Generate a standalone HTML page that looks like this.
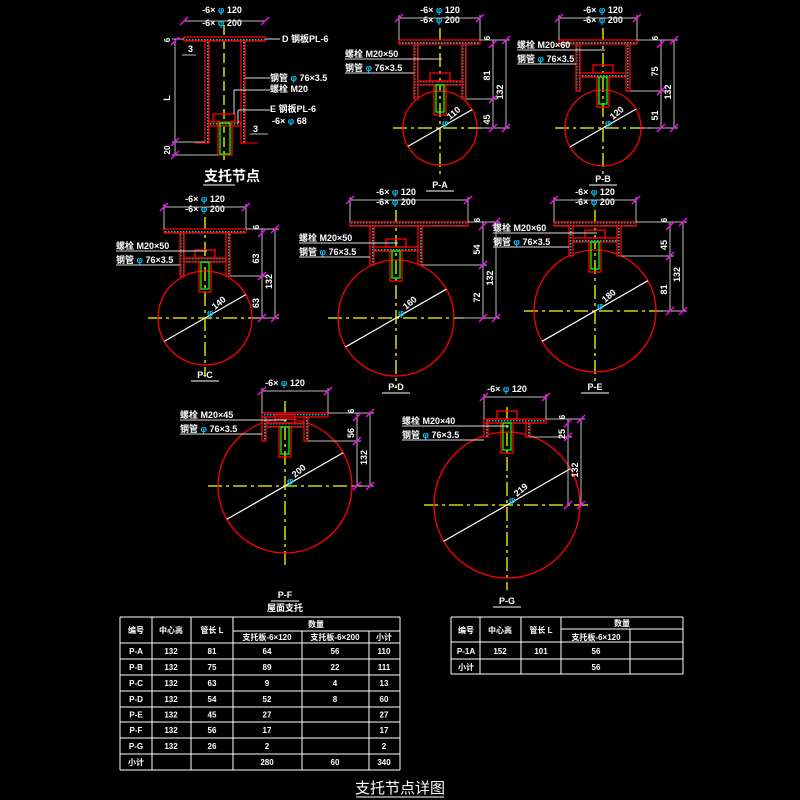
<!DOCTYPE html>
<html><head><meta charset="utf-8"><style>
html,body{margin:0;padding:0;background:#000;width:800px;height:800px;overflow:hidden}
svg{display:block}
text{font-family:"Liberation Sans","Noto Sans CJK SC",sans-serif;fill:#fff;font-weight:bold}
</style></head><body>
<svg id="s" width="800" height="800" viewBox="0 0 800 800" xmlns="http://www.w3.org/2000/svg">
<defs><pattern id="h" width="3" height="3" patternUnits="userSpaceOnUse"><rect width="3" height="3" fill="#000"/><rect width="1.5" height="1.5" fill="#0cc"/></pattern></defs>
<g id="g"></g>
</svg>
<script>
var o='';
function L(x1,y1,x2,y2,c,w,d){o+='<line x1="'+x1+'" y1="'+y1+'" x2="'+x2+'" y2="'+y2+'" stroke="'+(c||'#bbb')+'" stroke-width="'+(w||1)+'"'+(d?' stroke-dasharray="'+d+'"':'')+'/>';}
function R(x,y,w,h,c,f){o+='<rect x="'+x+'" y="'+y+'" width="'+w+'" height="'+h+'" stroke="'+c+'" stroke-width="1.3" fill="'+(f||'none')+'"/>';}
function T(x,y,s,sz,a,rot,col){o+='<text x="'+x+'" y="'+y+'" font-size="'+(sz||9)+'" text-anchor="'+(a||'start')+'"'+(rot?' transform="rotate('+rot+' '+x+' '+y+')"':'')+(col?' style="fill:'+col+'"':'')+'>'+s+'</text>';}
function tick(x,y){L(x-4,y+4,x+4,y-4,'#f0f',1.5);}
function phi(x,y){o+='<text x="'+x+'" y="'+y+'" font-size="9" style="fill:#0cf">φ</text>';}
function sup(p){
 var cx=p.cx,t=4;
 L(cx,p.py-12,cx,p.cy+p.r+12,'#ff0',1.3,'14,4,3,4');
 if(p.r){L(cx-p.r-10,p.cy,cx+p.r+10,p.cy,'#ff0',1.3,'14,4,3,4');
  o+='<circle cx="'+cx+'" cy="'+p.cy+'" r="'+p.r+'" stroke="#f00" stroke-width="1.3" fill="none"/>';
  var a=-0.52,dx=p.r*Math.cos(a),dy=p.r*Math.sin(a);L(cx-dx,p.cy-dy,cx+dx,p.cy+dy,'#fff',1.2);
  T(cx+10,p.cy-8,p.d,9,'start',-40);phi(cx+2,p.cy-2);}
 R(p.pl,p.py,p.pr-p.pl,t,'#f00','url(#h)');
 R(cx-p.pw,p.py+t,4,p.pb-p.py-t,'#f00','url(#h)');
 R(cx+p.pw-4,p.py+t,4,p.pb-p.py-t,'#f00','url(#h)');
 R(cx-p.pw+4,p.pb-18,p.pw*2-8,4,'#f00','url(#h)');
 R(cx-10,p.pb-26,20,8,'#f00');
 R(cx-6,p.pb-14,12,p.bl||30,'#f00');R(cx-4,p.pb-14,8,(p.bl||30)-3,'#0f0');
 if(p.lab){var lx=p.lab[0],ly=p.lab[1];T(lx,ly,p.lab[2],9);L(lx,ly+2,cx+2,ly+2,'#ddd');
  T(lx,ly+14,'钢管 <tspan style="fill:#0cf">φ</tspan> 76×3.5',9);L(lx,ly+16,cx-p.pw,ly+16,'#ddd');}
 if(p.top){var y=p.py-22;T(cx,y-5,'-6× <tspan style="fill:#0cf">φ</tspan> 120',9,'middle');
  if(p.top==2){T(cx,y+5,'-6× <tspan style="fill:#0cf">φ</tspan> 200',9,'middle');}
  L(p.pl,y,p.pr,y);L(p.pl,y-3,p.pl,p.py);L(p.pr,y-3,p.pr,p.py);tick(p.pl,y);tick(p.pr,y);}
 var x1=p.dx,x2=p.dx+13;
 L(p.pr,p.py,x2+4,p.py);L(cx+p.pw,p.pb,x1+4,p.pb);L(cx+p.r,p.cy,x2+4,p.cy);
 L(x1,p.py,x1,p.cy);L(x2,p.py,x2,p.cy);tick(x1,p.py+4);tick(x1,p.pb);tick(x1,p.cy);tick(x2,p.py);tick(x2,p.cy);
 T(x1-3,(p.py+p.pb)/2+6,p.d1,9,'middle',-90);T(x1-3,(p.pb+p.cy)/2+6,p.d2||'',9,'middle',-90);T(x2-3,(p.py+p.cy)/2+8,'132',9,'middle',-90);
 T(x1-3,p.py-2,'6',8,'middle',-90);
 T(cx,p.ly,p.name,9,'middle');L(cx-14,p.ly+3,cx+14,p.ly+3,'#fff');
}
sup({cx:440,cy:128,r:37,py:40,pl:399,pr:480,pw:26,pb:99,d:'110',d1:'81',d2:'45',dx:493,lab:[345,57,'螺栓 M20×50'],top:2,name:'P-A',ly:188});
sup({cx:603,cy:128,r:38,py:40,pl:559,pr:637,pw:27,pb:91,d:'120',d1:'75',d2:'51',dx:661,lab:[517,48,'螺栓 M20×60'],top:2,name:'P-B',ly:182});
sup({cx:205,cy:318,r:47,py:229,pl:164,pr:246,pw:25,pb:276,d:'140',d1:'63',d2:'63',dx:262,lab:[116,249,'螺栓 M20×50'],top:2,name:'P-C',ly:378});
sup({cx:396,cy:318,r:58,py:222,pl:350,pr:468,pw:26,pb:265,d:'160',d1:'54',d2:'72',dx:483,lab:[299,241,'螺栓 M20×50'],top:2,name:'P-D',ly:390});
sup({cx:595,cy:311,r:61,py:222,pl:554,pr:636,pw:26,pb:256,d:'180',d1:'45',d2:'81',dx:670,lab:[493,231,'螺栓 M20×60'],top:2,name:'P-E',ly:390});
sup({cx:285,cy:486,r:67,py:413,pl:262,pr:328,pw:23,pb:441,d:'200',d1:'56',d2:'',dx:357,lab:[180,418,'螺栓 M20×45'],top:1,name:'P-F',ly:598});
sup({cx:507,cy:505,r:73,py:419,pl:484,pr:546,pw:23,pb:437,d:'219',d1:'25',d2:'',dx:568,lab:[402,424,'螺栓 M20×40'],top:1,name:'P-G',ly:604});
T(285,611,'屋面支托',9,'middle');
L(224,25,224,160,'#ff0',1.3,'10,4');
R(184,37,81,4,'#f00','url(#h)');R(205,41,4,102,'#f00','url(#h)');R(241,41,4,102,'#f00','url(#h)');
R(209,122,32,4,'#f00','url(#h)');R(213,114,22,8,'#f00');R(218,122,14,33,'#f00');R(220,123,10,31,'#0f0');
L(195,143,205,143,'#f00');L(245,143,258,143,'#f00');
T(222,13,'-6× <tspan style="fill:#0cf">φ</tspan> 120',9,'middle');T(222,26,'-6× <tspan style="fill:#0cf">φ</tspan> 200',9,'middle');
L(184,21,265,21);tick(184,21);tick(265,21);
L(265,39,280,39,'#ddd');T(282,42,'D 钢板PL-6',9);
L(245,78,270,78,'#ddd');T(270,81,'钢管 <tspan style="fill:#0cf">φ</tspan> 76×3.5',9);
L(234,90,234,114,'#ddd');L(234,90,270,90,'#ddd');T(270,92,'螺栓 M20',9);
L(238,110,238,123,'#ddd');L(238,110,270,110,'#ddd');T(270,112,'E 钢板PL-6',9);T(272,124,'-6× <tspan style="fill:#0cf">φ</tspan> 68',9);
L(175,39,175,155);L(172,39,184,39);L(172,142,205,142);L(172,155,218,155);tick(175,41);tick(175,142);tick(175,155);
T(170,98,'L',9,'middle',-90);T(170,150,'20',8,'middle',-90);T(170,40,'6',8,'middle',-90);
T(188,52,'3',9);L(182,55,196,55);T(253,132,'3',9);L(250,134,268,134);
o+='<text x="232" y="181" font-size="14" text-anchor="middle">支托节点</text>';L(203,185,235,185,'#fff');
var Y=[617,643];for(var i=1;i<=8;i++)Y.push(Math.round(643+i*127/8));
Y.forEach(function(y){L(120,y,400,y,'#fff');});L(233,631,400,631,'#fff');
[120,152,191,233,400].forEach(function(x){L(x,617,x,770,'#fff');});[302,369].forEach(function(x){L(x,631,x,770,'#fff');});
T(136,633,'编号',8,'middle');T(171,633,'中心高',8,'middle');T(212,633,'管长 L',8,'middle');T(316,627,'数量',8,'middle');
T(267,640,'支托板-6×120',8,'middle');T(335,640,'支托板-6×200',8,'middle');T(384,640,'小计',8,'middle');
var rows=[['P-A','132','81','64','56','110'],['P-B','132','75','89','22','111'],['P-C','132','63','9','4','13'],['P-D','132','54','52','8','60'],['P-E','132','45','27','','27'],['P-F','132','56','17','','17'],['P-G','132','26','2','','2'],['小计','','','280','60','340']];
rows.forEach(function(r,i){var y=(Y[i+1]+Y[i+2])/2+3;var cx=[136,171,212,267,335,384];r.forEach(function(v,j){T(cx[j],y,v,8,'middle');});});
[617,642,659,674].forEach(function(y){L(451,y,683,y,'#fff');});L(561,629,683,629,'#fff');
[451,480,521,561,683].forEach(function(x){L(x,617,x,674,'#fff');});L(630,629,630,674,'#fff');
T(466,633,'编号',8,'middle');T(500,633,'中心高',8,'middle');T(541,633,'管长 L',8,'middle');T(622,626,'数量',8,'middle');T(596,640,'支托板-6×120',8,'middle');
T(466,654,'P-1A',8,'middle');T(500,654,'152',8,'middle');T(541,654,'101',8,'middle');T(596,654,'56',8,'middle');
T(466,670,'小计',8,'middle');T(596,670,'56',8,'middle');
o+='<text x="400" y="793" font-size="15" text-anchor="middle" style="font-weight:normal">支托节点详图</text>';L(356,797,444,797,'#fff');
document.getElementById('g').innerHTML=o;
</script>
</body></html>
